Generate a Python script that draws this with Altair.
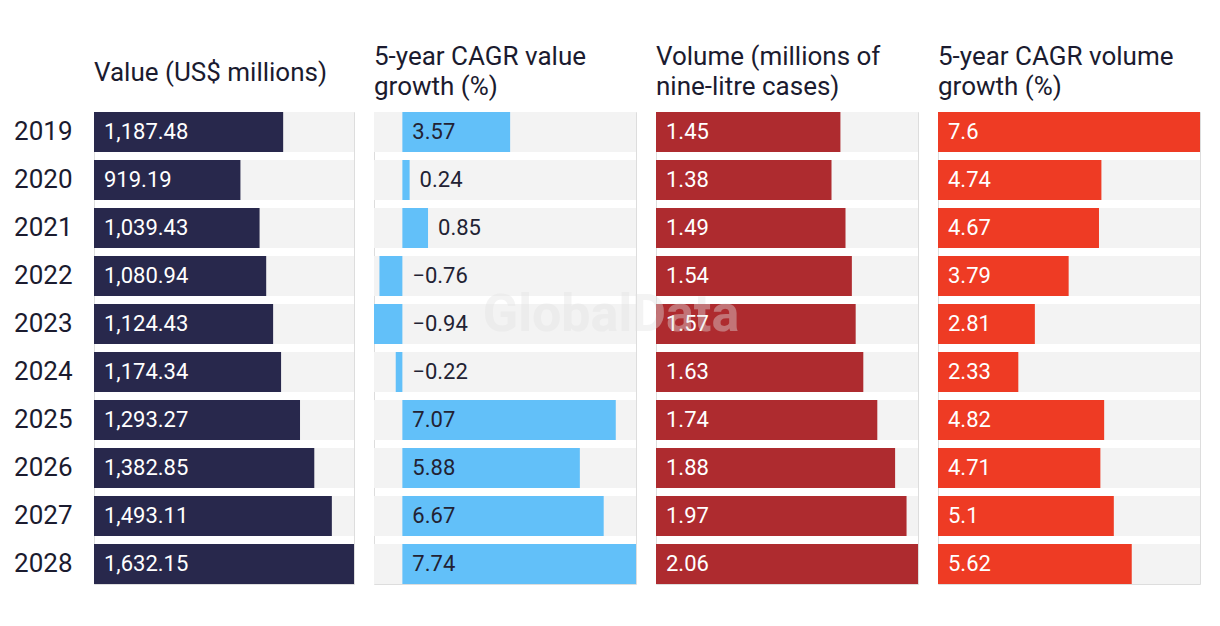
import altair as alt
import pandas as pd

years = ["2019", "2020", "2021", "2022", "2023", "2024", "2025", "2026", "2027", "2028"]
value_usd = [1187.48, 919.19, 1039.43, 1080.94, 1124.43, 1174.34, 1293.27, 1382.85, 1493.11, 1632.15]
value_cagr = [3.57, 0.24, 0.85, -0.76, -0.94, -0.22, 7.07, 5.88, 6.67, 7.74]
volume = [1.45, 1.38, 1.49, 1.54, 1.57, 1.63, 1.74, 1.88, 1.97, 2.06]
volume_cagr = [7.6, 4.74, 4.67, 3.79, 2.81, 2.33, 4.82, 4.71, 5.1, 5.62]

headers = [
    ["Value (US$ millions)"],
    ["5-year CAGR value", "growth (%)"],
    ["Volume (millions of", "nine-litre cases)"],
    ["5-year CAGR volume", "growth (%)"],
]
colors = ["#28284c", "#62c0f9", "#ae2b2f", "#ee3b24"]
label_colors = ["#ffffff", "#222233", "#ffffff", "#ffffff"]
widths = [260, 262, 262, 262]
series = [value_usd, value_cagr, volume, volume_cagr]

FONT = "Roboto"
TEXT = "#1b1b2f"
BG = "#f3f3f3"


def fmt(v):
    s = f"{v:,}"
    return s.replace("-", "\u2212")


def panel(i):
    vals = series[i]
    lo = min(0, min(vals))
    hi = max(vals)
    # label sits inside the bar at its base; if the bar is too short, just after it
    min_fit = (hi - lo) * 0.12
    lab_x = [v if 0 < v < min_fit else 0 for v in vals]
    df = pd.DataFrame({
        "year": years,
        "v": vals,
        "zero": [0] * len(vals),
        "lo": [lo] * len(vals),
        "hi": [hi] * len(vals),
        "labx": lab_x,
        "label": [fmt(v) for v in vals],
    })
    xs = alt.Scale(domain=[lo, hi], nice=False, zero=False)
    if i == 0:
        yaxis = alt.Axis(title=None, ticks=False, domain=False, labelFont=FONT,
                         labelFontSize=26, labelColor=TEXT, labelPadding=22)
    else:
        yaxis = None
    ys = alt.Scale(paddingInner=1 / 6, paddingOuter=0)
    y = alt.Y("year:N", sort=years, scale=ys, axis=yaxis)
    base = alt.Chart(df)
    bg = base.mark_bar(color=BG).encode(
        x=alt.X("lo:Q", scale=xs, axis=None), x2="hi:Q", y=y
    )
    bar = base.mark_bar(color=colors[i]).encode(
        x=alt.X("zero:Q", scale=xs, axis=None), x2="v:Q", y=y
    )
    txt = base.mark_text(align="left", baseline="middle", dx=10, font=FONT,
                         fontSize=22, color=label_colors[i]).encode(
        x=alt.X("labx:Q", scale=xs, axis=None), y=y, text="label:N"
    )
    hy = -39 if len(headers[i]) == 1 else -55
    head = alt.Chart(pd.DataFrame({"h": [0]})).mark_text(
        align="left", baseline="middle", font=FONT, fontSize=26,
        lineHeight=30, color=TEXT, text=headers[i]
    ).encode(x=alt.value(0), y=alt.value(hy))
    layers = [bg, bar, txt, head]
    if i == 2:
        wm = alt.Chart(pd.DataFrame({"h": [0]})).mark_text(
            align="center", baseline="middle", font=FONT, fontSize=52,
            fontWeight="bold", color="#e2e2e2", opacity=0.4, text="GlobalData"
        ).encode(x=alt.value(-45), y=alt.value(203))
        layers.append(wm)
    return alt.layer(*layers).properties(width=widths[i], height=472)


chart = alt.hconcat(*[panel(i) for i in range(4)], spacing=20, bounds="flush").properties(
    padding={"left": 5, "top": 35, "right": 5, "bottom": 5}
).configure_view(stroke=None).configure(background="#ffffff")

chart.save("out.html", embed_options={"renderer": "svg", "actions": False})
